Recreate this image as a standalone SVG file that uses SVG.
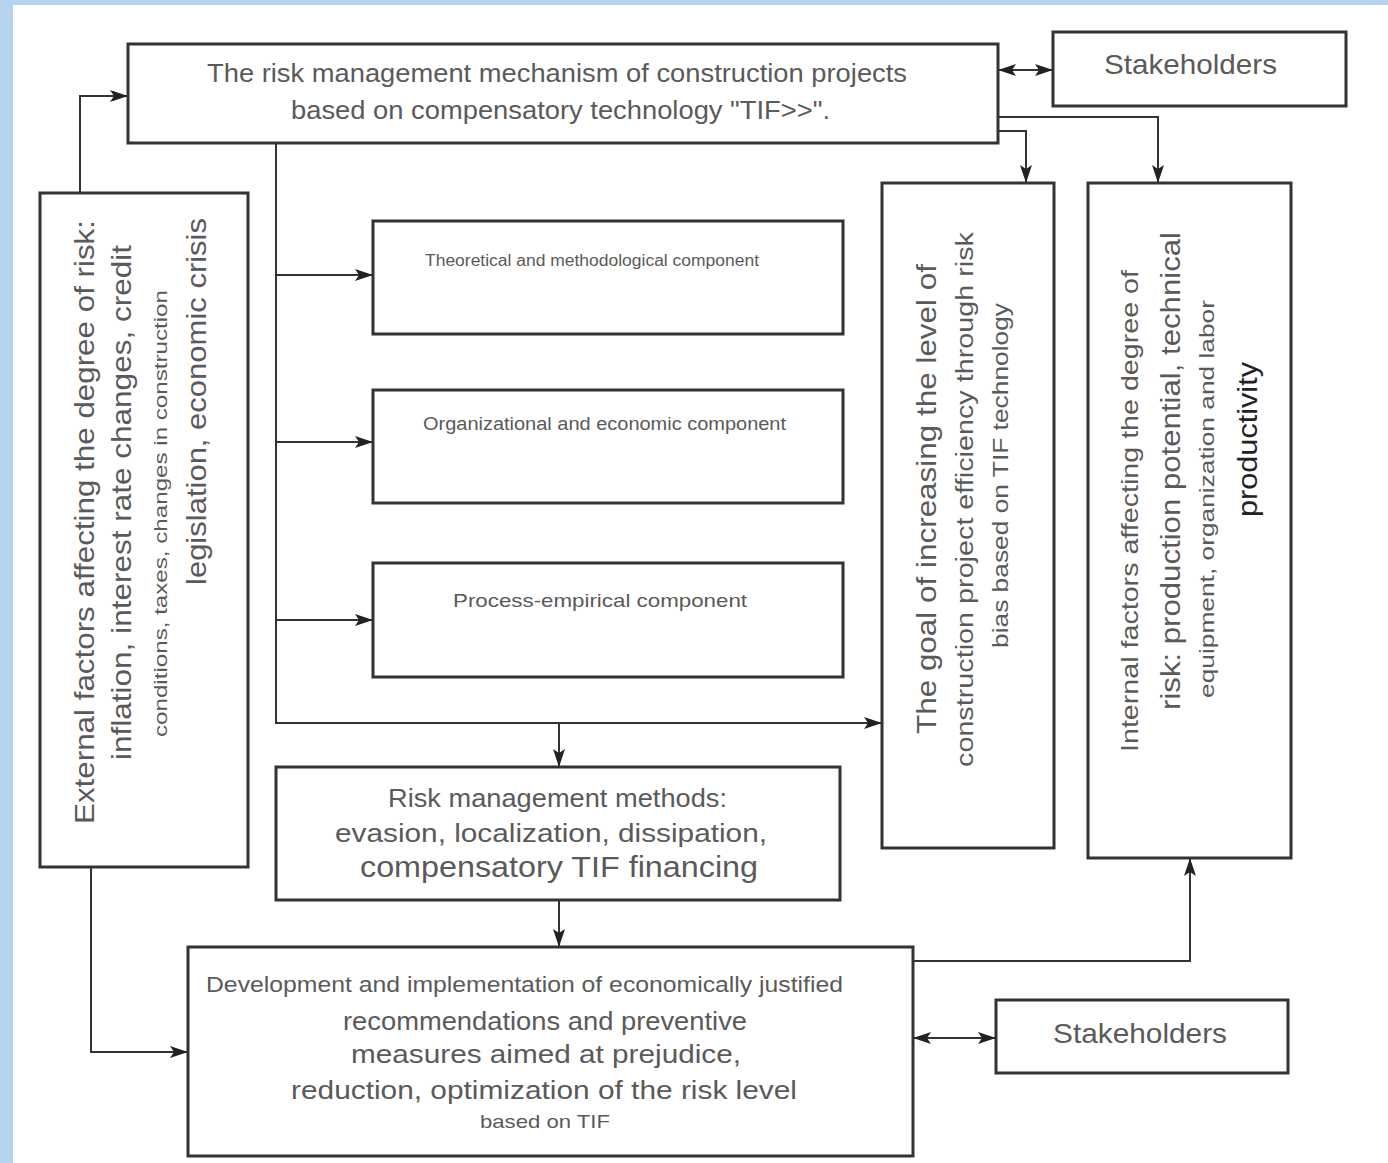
<svg xmlns="http://www.w3.org/2000/svg" width="1388" height="1163" viewBox="0 0 1388 1163">
<style>
.box{fill:#fff;stroke:#333;stroke-width:3}
.ln{fill:none;stroke:#333;stroke-width:2}
text{font-family:"Liberation Sans",Arial,sans-serif;fill:#5a5a5a}
.dk{fill:#222}
</style>
<defs>
<marker id="ah" viewBox="0 0 18 12" refX="18" refY="6" markerWidth="18" markerHeight="12" markerUnits="userSpaceOnUse" orient="auto-start-reverse">
<path d="M0,0 L18,6 L0,12 L4,6 z" fill="#222"/>
</marker>
</defs>
<rect x="0" y="0" width="1388" height="1163" fill="#b5d2ee"/>
<rect x="13" y="5" width="1375" height="1158" fill="#fff"/>

<g id="connectors">
<path class="ln" d="M80,193 V96 H128" marker-end="url(#ah)"/>
<path class="ln" d="M276,143 V723 H882" marker-end="url(#ah)"/>
<path class="ln" d="M276,275 H373" marker-end="url(#ah)"/>
<path class="ln" d="M276,442 H373" marker-end="url(#ah)"/>
<path class="ln" d="M276,620 H373" marker-end="url(#ah)"/>
<path class="ln" d="M559,723 V767" marker-end="url(#ah)"/>
<path class="ln" d="M559,900 V947" marker-end="url(#ah)"/>
<path class="ln" d="M91,867 V1052 H188" marker-end="url(#ah)"/>
<path class="ln" d="M998,70 H1053" marker-start="url(#ah)" marker-end="url(#ah)"/>
<path class="ln" d="M998,117 H1158 V183" marker-end="url(#ah)"/>
<path class="ln" d="M998,131 H1026 V183" marker-end="url(#ah)"/>
<path class="ln" d="M913,961 H1190 V858" marker-end="url(#ah)"/>
<path class="ln" d="M913,1038 H996" marker-start="url(#ah)" marker-end="url(#ah)"/>
</g>

<g id="mechanism">
<rect class="box" x="128" y="44" width="870" height="99"/>
<text x="207" y="82" font-size="25" textLength="700" lengthAdjust="spacingAndGlyphs">The risk management mechanism of construction projects</text>
<text x="291" y="119" font-size="25" textLength="539" lengthAdjust="spacingAndGlyphs">based on compensatory technology "TIF&gt;&gt;".</text>
</g>

<g id="stakeholders-top">
<rect class="box" x="1053" y="32" width="293" height="74"/>
<text x="1104" y="74" font-size="28" textLength="173" lengthAdjust="spacingAndGlyphs">Stakeholders</text>
</g>

<g id="external-factors">
<rect class="box" x="40" y="193" width="208" height="674"/>
<text transform="translate(94,824) rotate(-90)" font-size="28" textLength="604" lengthAdjust="spacingAndGlyphs">External factors affecting the degree of risk:</text>
<text transform="translate(131,760) rotate(-90)" font-size="28" textLength="515" lengthAdjust="spacingAndGlyphs">inflation, interest rate changes, credit</text>
<text transform="translate(167,737) rotate(-90)" font-size="19" textLength="447" lengthAdjust="spacingAndGlyphs">conditions, taxes, changes in construction</text>
<text transform="translate(206,585) rotate(-90)" font-size="28" textLength="367" lengthAdjust="spacingAndGlyphs">legislation, economic crisis</text>
</g>

<g id="theoretical">
<rect class="box" x="373" y="221" width="470" height="113"/>
<text x="425" y="266" font-size="16" textLength="334" lengthAdjust="spacingAndGlyphs">Theoretical and methodological component</text>
</g>

<g id="organizational">
<rect class="box" x="373" y="390" width="470" height="113"/>
<text x="423" y="430" font-size="18" textLength="363" lengthAdjust="spacingAndGlyphs">Organizational and economic component</text>
</g>

<g id="process">
<rect class="box" x="373" y="563" width="470" height="114"/>
<text x="453" y="607" font-size="19" textLength="294" lengthAdjust="spacingAndGlyphs">Process-empirical component</text>
</g>

<g id="goal">
<rect class="box" x="882" y="183" width="172" height="665"/>
<text transform="translate(936,734) rotate(-90)" font-size="28" textLength="470" lengthAdjust="spacingAndGlyphs">The goal of increasing the level of</text>
<text transform="translate(973,767) rotate(-90)" font-size="23" textLength="535" lengthAdjust="spacingAndGlyphs">construction project efficiency through risk</text>
<text transform="translate(1008,648) rotate(-90)" font-size="22" textLength="345" lengthAdjust="spacingAndGlyphs">bias based on TIF technology</text>
</g>

<g id="internal-factors">
<rect class="box" x="1088" y="183" width="203" height="675"/>
<text transform="translate(1138,752) rotate(-90)" font-size="24" textLength="482" lengthAdjust="spacingAndGlyphs">Internal factors affecting the degree of</text>
<text transform="translate(1180,710) rotate(-90)" font-size="27" textLength="478" lengthAdjust="spacingAndGlyphs">risk: production potential, technical</text>
<text transform="translate(1214,698) rotate(-90)" font-size="21" textLength="398" lengthAdjust="spacingAndGlyphs">equipment, organization and labor</text>
<text class="dk" transform="translate(1257,517) rotate(-90)" font-size="27" textLength="155" lengthAdjust="spacingAndGlyphs">productivity</text>
</g>

<g id="methods">
<rect class="box" x="276" y="767" width="564" height="133"/>
<text x="388" y="807" font-size="25" textLength="339" lengthAdjust="spacingAndGlyphs">Risk management methods:</text>
<text x="335" y="842" font-size="26" textLength="432" lengthAdjust="spacingAndGlyphs">evasion, localization, dissipation,</text>
<text x="360" y="877" font-size="29" textLength="398" lengthAdjust="spacingAndGlyphs">compensatory TIF financing</text>
</g>

<g id="development">
<rect class="box" x="188" y="947" width="725" height="209"/>
<text x="206" y="992" font-size="22" textLength="637" lengthAdjust="spacingAndGlyphs">Development and implementation of economically justified</text>
<text x="343" y="1030" font-size="25" textLength="404" lengthAdjust="spacingAndGlyphs">recommendations and preventive</text>
<text x="351" y="1063" font-size="26" textLength="390" lengthAdjust="spacingAndGlyphs">measures aimed at prejudice,</text>
<text x="291" y="1099" font-size="26" textLength="506" lengthAdjust="spacingAndGlyphs">reduction, optimization of the risk level</text>
<text x="480" y="1128" font-size="19" textLength="130" lengthAdjust="spacingAndGlyphs">based on TIF</text>
</g>

<g id="stakeholders-bottom">
<rect class="box" x="996" y="1000" width="292" height="73"/>
<text x="1053" y="1043" font-size="28" textLength="174" lengthAdjust="spacingAndGlyphs">Stakeholders</text>
</g>
</svg>
